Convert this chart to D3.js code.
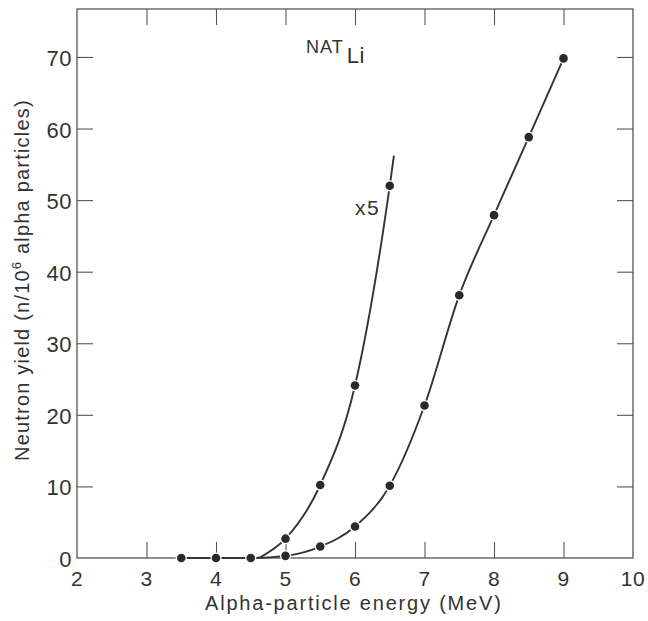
<!DOCTYPE html>
<html>
<head>
<meta charset="utf-8">
<script src="https://cdn.jsdelivr.net/npm/d3@7"></script>
<style>
  html, body { margin: 0; padding: 0; background: #fff; }
  svg { display: block; }
  text { font-family: "Liberation Sans", Arial, sans-serif; fill: #333; }
</style>
</head>
<body>
<svg id="chart" width="648" height="621"></svg>
<script>
// ---- data ----
const energy = [3.5, 4.0, 4.5, 5.0, 5.5, 6.0, 6.5, 7.0, 7.5, 8.0, 8.5, 9.0];
const yieldMain = [0, 0, 0, 0.3, 1.6, 4.4, 10.1, 21.3, 36.7, 47.9, 58.8, 69.8];
const energyX5 = [5.0, 5.5, 6.0, 6.5];
const yieldX5 = [2.7, 10.2, 24.1, 52.0];
// extent of the hand-drawn x5 curve beyond its points
const x5CurveStart = [4.62, 0];
const x5CurveEnd = [6.56, 56.2];
const xTicks = [2, 3, 4, 5, 6, 7, 8, 9, 10];
const yTicks = [0, 10, 20, 30, 40, 50, 60, 70];
const xLabel = "Alpha-particle energy (MeV)";
const yLabelA = "Neutron yield (n/10";
const yLabelSup = "6";
const yLabelB = " alpha particles)";
const x5Label = "x5";

(function () {
// ---- layout ----
const svg = d3.select("#chart");
const mL = 77, mR = 633, mT = 9, mB = 558;
const x = d3.scaleLinear().domain([2, 10]).range([mL, mR]);
const y = d3.scaleLinear().domain([0, 76.7]).range([mB, mT]);
const ink = "#333";
const tickLen = 16;

// frame
svg.append("rect")
  .attr("x", mL).attr("y", mT)
  .attr("width", mR - mL).attr("height", mB - mT)
  .attr("fill", "none").attr("stroke", "#555").attr("stroke-width", 1.3);

// inward ticks via axes
const innerX = xTicks.filter(d => d > 2 && d < 10);
const innerY = yTicks.filter(d => d > 0);
svg.append("g").attr("transform", `translate(0,${mB})`)
  .call(d3.axisTop(x).tickValues(innerX).tickSize(tickLen).tickFormat(""))
  .call(g => g.select(".domain").remove());
svg.append("g").attr("transform", `translate(0,${mT})`)
  .call(d3.axisBottom(x).tickValues(innerX).tickSize(tickLen).tickFormat(""))
  .call(g => g.select(".domain").remove());
svg.append("g").attr("transform", `translate(${mL},0)`)
  .call(d3.axisRight(y).tickValues(innerY).tickSize(tickLen).tickFormat(""))
  .call(g => g.select(".domain").remove());
svg.append("g").attr("transform", `translate(${mR},0)`)
  .call(d3.axisLeft(y).tickValues(innerY).tickSize(tickLen).tickFormat(""))
  .call(g => g.select(".domain").remove());
svg.selectAll(".tick line").attr("stroke", "#555").attr("stroke-width", 1.1);

// tick labels
svg.append("g").selectAll("text").data(xTicks).join("text")
  .attr("x", d => x(d)).attr("y", mB + 28)
  .attr("text-anchor", "middle").attr("font-size", 21).attr("letter-spacing", 0.5)
  .text(d => d);
svg.append("g").selectAll("text").data(yTicks).join("text")
  .attr("x", mL - 5).attr("y", d => y(d) + 9)
  .attr("text-anchor", "end").attr("font-size", 22).attr("letter-spacing", 0.5)
  .text(d => d);

// axis titles
svg.append("text")
  .attr("x", 205).attr("y", 610)
  .attr("font-size", 20).attr("letter-spacing", 1.8)
  .text(xLabel);
const yt = svg.append("text")
  .attr("transform", "translate(29,461) rotate(-90)")
  .attr("font-size", 20).attr("letter-spacing", 1.2);
yt.append("tspan").text(yLabelA);
yt.append("tspan").attr("font-size", 13).attr("dy", -8).text(yLabelSup);
yt.append("tspan").attr("dy", 8).text(yLabelB);

// NAT Li label
const nat = svg.append("text").attr("x", 306).attr("y", 53);
nat.append("tspan").attr("font-size", 18).attr("letter-spacing", 1).text("NAT");
nat.append("tspan").attr("font-size", 22).attr("dx", 3).attr("dy", 10).attr("letter-spacing", 0.5).text("Li");

// x5 label
svg.append("text").attr("x", 355).attr("y", 215).attr("font-size", 21)
  .attr("letter-spacing", 1.5).text(x5Label);

// ---- curves ----
const line = d3.line().x(d => x(d[0])).y(d => y(d[1])).curve(d3.curveMonotoneX);
const mainPts = energy.map((e, i) => [e, yieldMain[i]]);
const x5Pts = [x5CurveStart, ...energyX5.map((e, i) => [e, yieldX5[i]]), x5CurveEnd];

svg.append("path").datum(mainPts).attr("d", line)
  .attr("fill", "none").attr("stroke", ink).attr("stroke-width", 1.9);
svg.append("path").datum(x5Pts).attr("d", line)
  .attr("fill", "none").attr("stroke", ink).attr("stroke-width", 1.9);

// dots with white halo (gaps in line near points)
const allDots = mainPts.concat(energyX5.map((e, i) => [e, yieldX5[i]]));
svg.append("g").selectAll("circle").data(allDots).join("circle")
  .attr("cx", d => x(d[0])).attr("cy", d => y(d[1]))
  .attr("r", 4.3)
  .attr("fill", "#2a2a2a").attr("stroke", "#fff").attr("stroke-width", 2.6)
  .attr("paint-order", "stroke");
})();
</script>
</body>
</html>
